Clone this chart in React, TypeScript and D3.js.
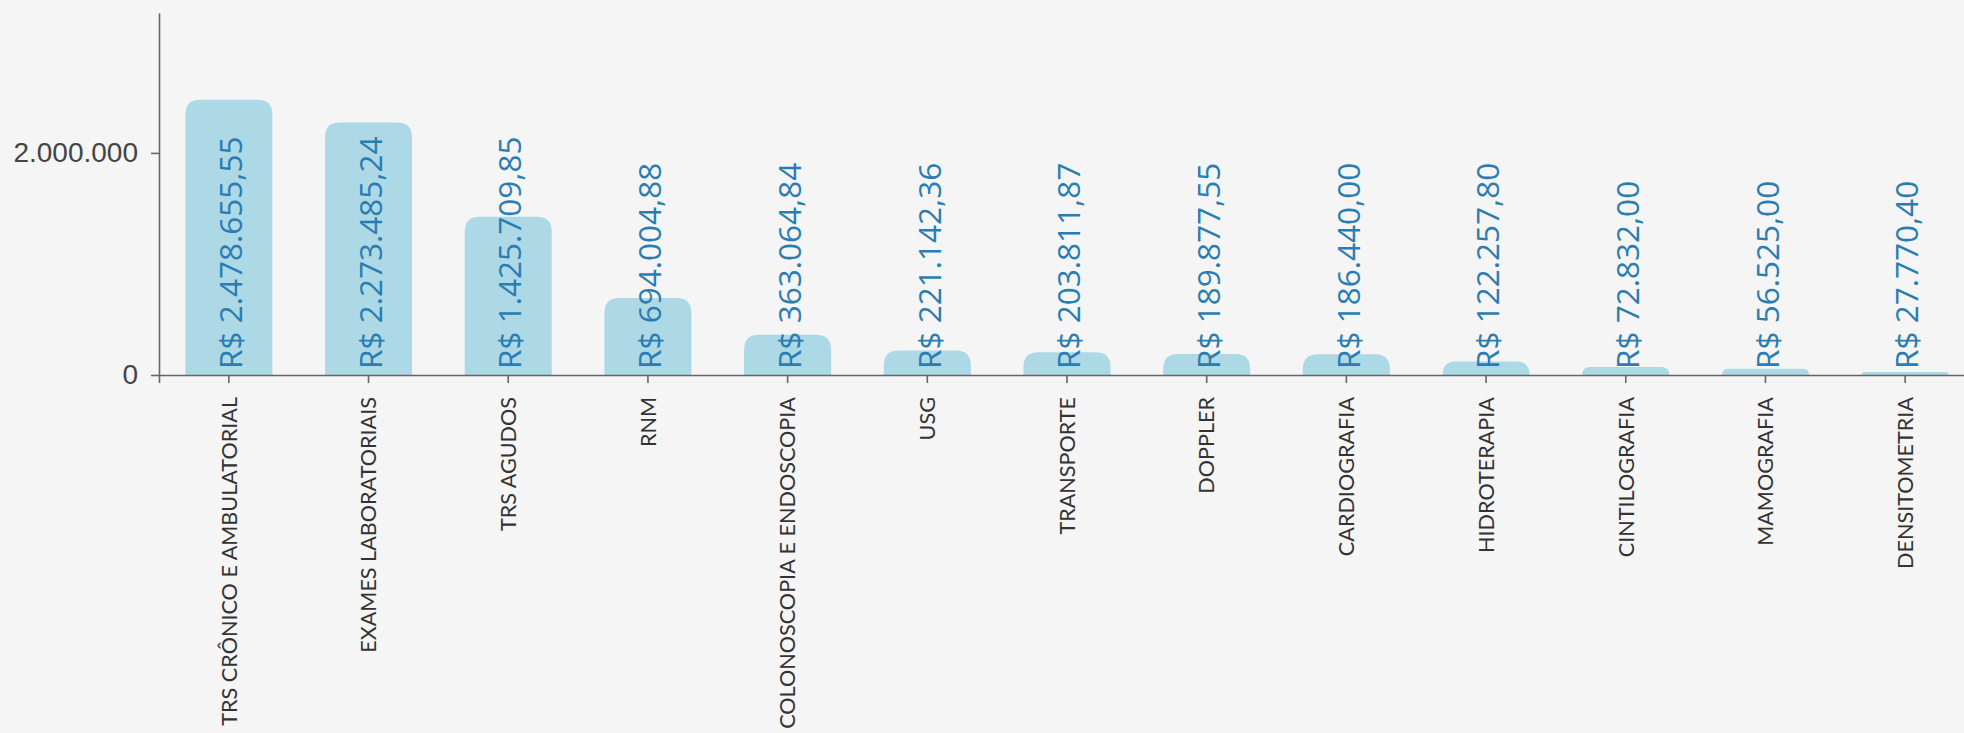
import { axisBottom, axisLeft, formatLocale, scaleBand, scaleLinear, select } from "d3";
import { useEffect, useRef } from "react";

const categories = [
  "TRS CRÔNICO E AMBULATORIAL",
  "EXAMES LABORATORIAIS",
  "TRS AGUDOS",
  "RNM",
  "COLONOSCOPIA E ENDOSCOPIA",
  "USG",
  "TRANSPORTE",
  "DOPPLER",
  "CARDIOGRAFIA",
  "HIDROTERAPIA",
  "CINTILOGRAFIA",
  "MAMOGRAFIA",
  "DENSITOMETRIA",
];

const values = [
  2478655.55, 2273485.24, 1425709.85, 694004.88, 363064.84, 221142.36, 203811.87,
  189877.55, 186440.0, 122257.8, 72832.0, 56525.0, 27770.4,
];

const yTicks = [0, 2000000];

const ptBR = formatLocale({
  decimal: ",",
  thousands: ".",
  grouping: [3],
  currency: ["R$ ", ""],
});
const fmtMoney = ptBR.format("$,.2f");
const fmtTick = ptBR.format(",");

function roundTopBar(x: number, y: number, w: number, h: number, r: number) {
  const rr = Math.min(r, h, w / 2);
  return `M${x},${y + h}V${y + rr}Q${x},${y} ${x + rr},${y}H${x + w - rr}Q${x + w},${y} ${x + w},${y + rr}V${y + h}Z`;
}

export default function App() {
  const width = 1964;
  const height = 733;
  const marginLeft = 159;
  const marginTop = 13;
  const baseline = 375;

  const gx = useRef<SVGGElement>(null);
  const gy = useRef<SVGGElement>(null);

  const x = scaleBand<string>()
    .domain(categories)
    .range([marginLeft, 1975])
    .paddingInner(0.377)
    .paddingOuter(0.1885);

  const y = scaleLinear().domain([0, 3260000]).range([baseline, marginTop]);

  useEffect(() => {
    const g = select(gx.current!);
    g.call(axisBottom(x).tickSizeOuter(0).tickSize(8).tickPadding(14) as any);
    g.select(".domain").attr("stroke", "#666").attr("stroke-width", 1.6);
    g.selectAll(".tick line").attr("stroke", "#666").attr("stroke-width", 1.6);
    g.selectAll(".tick text")
      .attr("transform", "rotate(-90)")
      .attr("text-anchor", "end")
      .attr("x", -22)
      .attr("y", 0)
      .attr("dy", "0.36em")
      .attr("fill", "#333")
      .style("font-family", "Lato")
      .style("font-size", "21.6px");
  }, [x]);

  useEffect(() => {
    const g = select(gy.current!);
    g.call(
      axisLeft(y).tickValues(yTicks).tickFormat((d) => fmtTick(d as number)).tickSize(8).tickPadding(13).tickSizeOuter(0) as any
    );
    g.select(".domain").attr("stroke", "#666").attr("stroke-width", 1.6);
    g.selectAll(".tick line").attr("stroke", "#666").attr("stroke-width", 1.6);
    g.selectAll(".tick text")
      .attr("fill", "#444")
      .style("font-family", "'Liberation Sans', Arial, sans-serif")
      .style("font-size", "28px");
  }, [y]);

  return (
    <div
      style={{
        position: "fixed",
        left: 0,
        top: 0,
        width,
        height,
        background: "#f5f5f5",
        overflow: "hidden",
      }}
    >
      <svg width={width} height={height}>
        <g>
          {categories.map((c, i) => {
            const bx = x(c)!;
            const by = y(values[i]);
            return (
              <path
                key={c}
                d={roundTopBar(bx, by, x.bandwidth(), baseline - by, 15)}
                fill="#add8e6"
              />
            );
          })}
        </g>
        <g ref={gx} transform={`translate(0,${baseline})`} />
        <g ref={gy} transform={`translate(${marginLeft},0)`} />
        <g>
          {categories.map((c, i) => {
            const cx = x(c)! + x.bandwidth() / 2;
            return (
              <text
                key={c}
                transform={`translate(${cx},${baseline - 6}) rotate(-90)`}
                dy="0.42em"
                textAnchor="start"
                fill="#2a7db3"
                style={{ fontFamily: "'Open Sans'", fontSize: 31.5 }}
              >
                {fmtMoney(values[i])}
              </text>
            );
          })}
        </g>
      </svg>
    </div>
  );
}
